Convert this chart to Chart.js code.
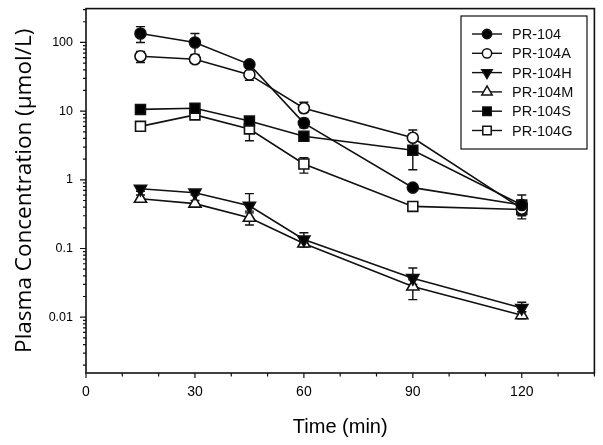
<!DOCTYPE html>
<html>
<head>
<meta charset="utf-8">
<script src="https://cdn.jsdelivr.net/npm/chart.js@4"></script>
<style>
  html, body { margin: 0; padding: 0; background: #fff; }
  #wrap { width: 603px; height: 445px; position: relative; }
</style>
</head>
<body>
<div id="wrap"><canvas id="grafica"></canvas></div>
<script>
// Datos
const tiempos = [15, 30, 45, 60, 90, 120];
const series = ["PR-104", "PR-104A", "PR-104H", "PR-104M", "PR-104S", "PR-104G"];

const pr104  = [135, 100, 48, 6.7, 0.77, 0.43];
const pr104A = [63, 57, 34, 11, 4.1, 0.38];
const pr104H = [0.74, 0.65, 0.42, 0.135, 0.037, 0.0136];
const pr104M = [0.53, 0.45, 0.28, 0.118, 0.028, 0.0107];
const pr104S = [10.6, 11, 7.2, 4.3, 2.7, 0.43];
const pr104G = [6.0, 8.8, 5.5, 1.7, 0.41, 0.37];

// barras de error [inferior, superior]
const err104  = [[100, 170], [65, 135], [43, 52], [5.7, 7.8], null, null];
const err104A = [[51, 74], [50, 67], [28, 36], [9.5, 13.5], [3.7, 5.3], null];
const err104H = [[0.68, 0.8], [0.6, 0.7], [0.35, 0.63], [0.12, 0.17], [0.03, 0.052], [0.012, 0.0165]];
const err104M = [[0.47, 0.6], [0.41, 0.5], [0.22, 0.33], [0.105, 0.13], [0.018, 0.035], [0.0095, 0.012]];
const err104S = [[9.8, 11.5], [10, 12], [6.3, 8], [3.8, 4.8], [1.4, 3.8], [0.27, 0.6]];
const err104G = [[5.3, 6.8], [8, 9.8], [3.7, 6.3], [1.25, 2.1], [0.38, 0.44], [0.3, 0.45]];

const ticksX = [0, 30, 60, 90, 120];
const ticksY = [0.01, 0.1, 1, 10, 100];

const valores = [pr104, pr104A, pr104H, pr104M, pr104S, pr104G];
const errores = [err104, err104A, err104H, err104M, err104S, err104G];
const estilos = [
  { pointStyle: "circle", fill: "#000", rot: 0, r: 5.5 },
  { pointStyle: "circle", fill: "#fff", rot: 0, r: 5.5 },
  { pointStyle: "triangle", fill: "#000", rot: 180, r: 7 },
  { pointStyle: "triangle", fill: "#fff", rot: 0, r: 7 },
  { pointStyle: "rect", fill: "#000", rot: 0, r: 7 },
  { pointStyle: "rect", fill: "#fff", rot: 0, r: 7 }
];

const datasets = series.map((nombre, i) => ({
  label: nombre,
  data: tiempos.map((t, j) => ({ x: t, y: valores[i][j] })),
  showLine: true,
  borderColor: "#111",
  borderWidth: 1.6,
  pointStyle: estilos[i].pointStyle,
  pointRotation: estilos[i].rot,
  pointRadius: estilos[i].r,
  pointBackgroundColor: estilos[i].fill,
  pointBorderColor: "#111",
  pointBorderWidth: 1.6,
  errores: errores[i]
}));

// barras de error, debajo de los puntos
const barrasError = {
  id: "barrasError",
  beforeDatasetsDraw(chart) {
    const { ctx, scales: { x, y } } = chart;
    ctx.save();
    ctx.strokeStyle = "#111";
    ctx.lineWidth = 1.4;
    chart.data.datasets.forEach(ds => {
      ds.errores.forEach((e, j) => {
        if (!e) return;
        const px = x.getPixelForValue(ds.data[j].x);
        const y1 = y.getPixelForValue(e[0]);
        const y2 = y.getPixelForValue(e[1]);
        ctx.beginPath();
        ctx.moveTo(px, y1); ctx.lineTo(px, y2);
        ctx.moveTo(px - 4.5, y1); ctx.lineTo(px + 4.5, y1);
        ctx.moveTo(px - 4.5, y2); ctx.lineTo(px + 4.5, y2);
        ctx.stroke();
      });
    });
    ctx.restore();
  }
};

// marco, marcas de ejes y leyenda
const marco = {
  id: "marco",
  afterDraw(chart) {
    const { ctx, chartArea: a, scales: { x, y } } = chart;
    ctx.save();
    ctx.strokeStyle = "#111";
    ctx.lineWidth = 1.6;
    ctx.strokeRect(a.left, a.top, a.right - a.left, a.bottom - a.top);

    ctx.lineWidth = 1.2;
    ctx.beginPath();
    for (let v = 0; v <= 140; v += 10) {
      const px = x.getPixelForValue(v);
      const largo = v % 30 === 0 ? 5 : 3.5;
      ctx.moveTo(px, a.bottom); ctx.lineTo(px, a.bottom + largo);
    }
    for (let d = -3; d <= 2; d++) {
      for (let k = 1; k <= 9; k++) {
        const v = k * Math.pow(10, d);
        if (v < y.min || v > y.max) continue;
        const py = y.getPixelForValue(v);
        const largo = k === 1 ? 6 : 3;
        ctx.moveTo(a.left, py); ctx.lineTo(a.left - largo, py);
      }
    }
    ctx.stroke();

    // leyenda
    const lx = 461, ly = 16, lw = 126, lh = 133;
    ctx.fillStyle = "#fff";
    ctx.fillRect(lx, ly, lw, lh);
    ctx.lineWidth = 1.2;
    ctx.strokeRect(lx, ly, lw, lh);
    ctx.font = "14.5px 'Liberation Sans', Arial, sans-serif";
    ctx.textBaseline = "middle";
    chart.data.datasets.forEach((ds, i) => {
      const cy = 34 + i * 19.3;
      ctx.strokeStyle = "#111";
      ctx.lineWidth = 1.4;
      ctx.beginPath();
      ctx.moveTo(472, cy); ctx.lineTo(502, cy);
      ctx.stroke();
      ctx.fillStyle = estilos[i].fill;
      ctx.lineWidth = 1.5;
      Chart.helpers.drawPoint(ctx, {
        pointStyle: estilos[i].pointStyle,
        rotation: estilos[i].rot,
        radius: estilos[i].r * 0.85,
        borderWidth: 1.5
      }, 487, cy);
      ctx.fillStyle = "#111";
      ctx.fillText(ds.label, 512, cy + 1);
    });
    ctx.restore();
  }
};

new Chart(document.getElementById("grafica"), {
  type: "scatter",
  data: { datasets },
  options: {
    responsive: true,
    maintainAspectRatio: false,
    animation: false,
    layout: { padding: { top: 7, right: 8, left: 0, bottom: 0 } },
    plugins: {
      legend: { display: false },
      tooltip: { enabled: false }
    },
    scales: {
      x: {
        type: "linear",
        min: 0,
        max: 140,
        afterFit(scale) {
          scale.height = 72;
          scale.paddingLeft = 0; scale.paddingRight = 0;
        },
        afterBuildTicks(scale) { scale.ticks = ticksX.map(v => ({ value: v })); },
        grid: { display: false, drawTicks: false },
        border: { display: false },
        ticks: {
          padding: 11,
          color: "#000",
          font: { family: "'Liberation Sans', Arial, sans-serif", size: 14 }
        },
        title: {
          display: true,
          text: "Time (min)",
          color: "#000",
          padding: { top: 0, bottom: 6 },
          font: { family: "'Liberation Sans', Arial, sans-serif", size: 20 }
        }
      },
      y: {
        type: "logarithmic",
        min: 0.00154,
        max: 311,
        afterFit(scale) {
          scale.width = 86;
          scale.paddingTop = 0; scale.paddingBottom = 0;
        },
        afterBuildTicks(scale) { scale.ticks = ticksY.map(v => ({ value: v })); },
        grid: { display: false, drawTicks: false },
        border: { display: false },
        ticks: {
          padding: 13,
          color: "#000",
          font: { family: "'Liberation Sans', Arial, sans-serif", size: 12.5 },
          callback: v => String(v)
        },
        title: {
          display: true,
          text: "Plasma Concentration (μmol/L)",
          color: "#000",
          padding: { top: 11, bottom: 0 },
          font: { family: "'Open Sans', sans-serif", size: 22.5 }
        }
      }
    }
  },
  plugins: [barrasError, marco]
});
</script>
</body>
</html>
